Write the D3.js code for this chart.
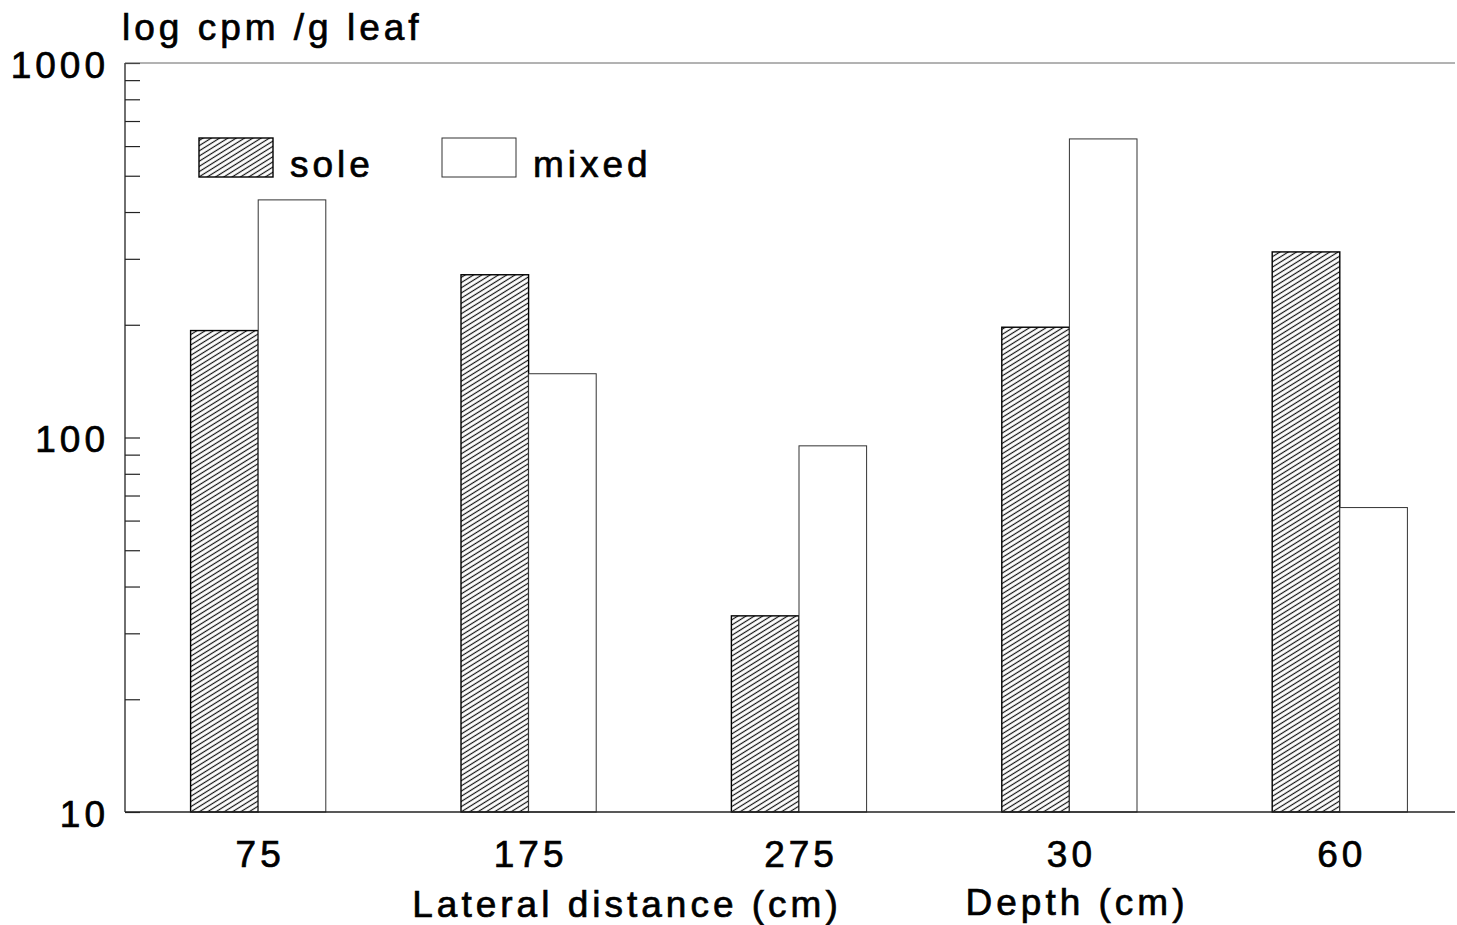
<!DOCTYPE html>
<html lang="en">

<head>
  <meta charset="UTF-8">
  <title>log cpm /g leaf</title>
  <script src="https://cdn.jsdelivr.net/npm/d3@7"></script>
  <style>
    body {
      margin: 0;
      background: #fff;
    }

    text {
      font-family: "Liberation Sans", Arial, sans-serif;
      font-size: 37px;
      letter-spacing: 4px;
      fill: #000;
      stroke: #000;
      stroke-width: 0.7px;
    }
  </style>
</head>

<body>
  <div id="wrapper"></div>
  <script>
    // values
    const categories = ["75", "175", "275", "30", "60"];
    const soleValues = [193, 272, 33.4, 197, 313];
    const mixedValues = [431, 148, 95, 627, 65];
    const seriesNames = ["sole", "mixed"];
    const yLabelTicks = [10, 100, 1000];
    const groupLabels = ["Lateral distance (cm)", "Depth (cm)"];

    const width = 1457;
    const height = 925;
    const frame = { left: 125, right: 1455, top: 63, bottom: 812 };

    const svg = d3.select("#wrapper")
      .append("svg")
      .attr("width", width)
      .attr("height", height);

    // hatch for the "sole" bars
    svg.append("defs")
      .append("pattern")
      .attr("id", "hatch")
      .attr("patternUnits", "userSpaceOnUse")
      .attr("width", 10)
      .attr("height", 4.4)
      .attr("patternTransform", "rotate(-32)")
      .append("line")
      .attr("x1", 0)
      .attr("x2", 10)
      .attr("y1", 2.2)
      .attr("y2", 2.2)
      .attr("stroke", "#111")
      .attr("stroke-width", 1.2);

    const xScale = d3.scaleBand()
      .domain(categories)
      .range([123, 1475])
      .paddingInner(0.5)
      .paddingOuter(0.25);

    const xSub = d3.scaleBand()
      .domain(seriesNames)
      .range([0, xScale.bandwidth()]);

    const yScale = d3.scaleLog()
      .domain([10, 1000])
      .range([frame.bottom, frame.top]);

    const rows = categories.map((c, i) => ({ cat: c, sole: soleValues[i], mixed: mixedValues[i] }));

    // bars
    const groups = svg.append("g")
      .selectAll("g")
      .data(rows)
      .join("g")
      .attr("transform", d => `translate(${xScale(d.cat)},0)`);

    groups.selectAll("rect")
      .data(d => seriesNames.map(s => ({ s, v: d[s] })))
      .join("rect")
      .attr("x", d => xSub(d.s))
      .attr("width", xSub.bandwidth())
      .attr("y", d => yScale(d.v))
      .attr("height", d => frame.bottom - yScale(d.v))
      .attr("fill", d => d.s === "sole" ? "url(#hatch)" : "#fff")
      .attr("stroke", d => d.s === "sole" ? "#000" : "#333")
      .attr("stroke-width", d => d.s === "sole" ? 1.4 : 1);

    // y axis, ticks pointing inward
    const yAxis = svg.append("g")
      .attr("transform", `translate(${frame.left},0)`)
      .call(d3.axisLeft(yScale)
        .tickSizeInner(-15)
        .tickSizeOuter(0)
        .tickPadding(16)
        .tickFormat(d => yLabelTicks.includes(d) ? d : ""));
    yAxis.select(".domain").remove();
    yAxis.selectAll("line").attr("stroke", "#222").attr("stroke-width", 1.2);
    yAxis.selectAll("text")
      .attr("dy", "0.38em")
      .attr("font-family", null)
      .attr("font-size", null);

    // x axis labels
    const xAxis = svg.append("g")
      .attr("transform", `translate(0,${frame.bottom})`)
      .call(d3.axisBottom(xScale).tickSize(0).tickPadding(29));
    xAxis.select(".domain").remove();
    xAxis.selectAll("text")
      .attr("dx", 2)
      .attr("font-family", null)
      .attr("font-size", null);

    // frame lines
    svg.append("line")
      .attr("x1", frame.left).attr("x2", frame.left)
      .attr("y1", frame.top).attr("y2", frame.bottom)
      .attr("stroke", "#222").attr("stroke-width", 1.3);
    svg.append("line")
      .attr("x1", frame.left).attr("x2", frame.right)
      .attr("y1", frame.bottom).attr("y2", frame.bottom)
      .attr("stroke", "#222").attr("stroke-width", 1.3);
    svg.append("line")
      .attr("x1", frame.left).attr("x2", frame.right)
      .attr("y1", frame.top).attr("y2", frame.top)
      .attr("stroke", "#666").attr("stroke-width", 1);

    // titles
    svg.append("text")
      .attr("x", 122)
      .attr("y", 40)
      .text("log cpm /g leaf");

    svg.append("text")
      .attr("x", 627)
      .attr("y", 917)
      .attr("text-anchor", "middle")
      .text(groupLabels[0]);

    svg.append("text")
      .attr("x", 1077)
      .attr("y", 915)
      .attr("text-anchor", "middle")
      .text(groupLabels[1]);

    // legend
    const legend = svg.append("g")
      .selectAll("g")
      .data(seriesNames)
      .join("g")
      .attr("transform", (d, i) => `translate(${199 + i * 243},138)`);

    legend.append("rect")
      .attr("width", 74)
      .attr("height", 39)
      .attr("fill", d => d === "sole" ? "url(#hatch)" : "#fff")
      .attr("stroke", d => d === "sole" ? "#000" : "#333")
      .attr("stroke-width", d => d === "sole" ? 1.4 : 1);

    legend.append("text")
      .attr("x", 91)
      .attr("y", 39)
      .text(d => d);
  </script>
</body>

</html>
